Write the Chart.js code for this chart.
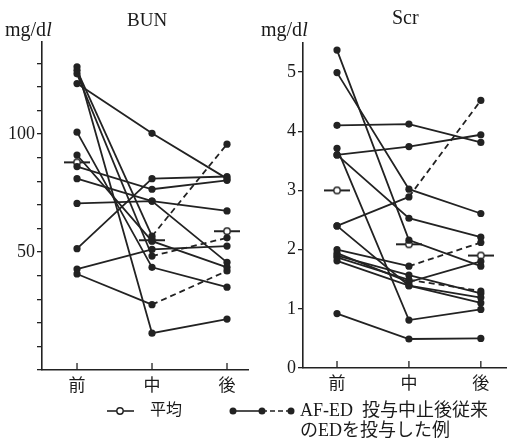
<!DOCTYPE html>
<html>
<head>
<meta charset="utf-8">
<script src="https://cdn.jsdelivr.net/npm/chart.js@4.4.0/dist/chart.umd.min.js"></script>
<style>
    body { margin: 0; background: #fff; width: 512px; height: 447px; position: relative; overflow: hidden;
           font-family: "Liberation Serif", "DejaVu Serif", serif; color: #1a1a1a; }
    canvas { position: absolute; top: 0; }
    .t { position: absolute; white-space: nowrap; line-height: 1; }
    .jp { font-family: "Liberation Serif", "Noto Sans CJK JP", serif; }
</style>
</head>
<body>
<canvas id="graficaBUN" width="256" height="400" style="left:0"></canvas>
<canvas id="graficaSCR" width="256" height="400" style="left:256px"></canvas>

<div class="t" style="left:5px;top:19px;font-size:20px">mg/d<i>l</i></div>
<div class="t" style="left:127px;top:10px;font-size:19px">BUN</div>
<div class="t" style="left:261px;top:19px;font-size:20px">mg/d<i>l</i></div>
<div class="t" style="left:392px;top:7px;font-size:20px">Scr</div>

<svg style="position:absolute;left:0;top:0" width="512" height="447">
    <line x1="107" y1="411" x2="134" y2="411" stroke="#222" stroke-width="1.6"/>
    <circle cx="120" cy="411" r="3.2" fill="#fff" stroke="#222" stroke-width="1.4"/>
    <line x1="233" y1="411" x2="262" y2="411" stroke="#222" stroke-width="1.6"/>
    <line x1="262" y1="411" x2="291" y2="411" stroke="#222" stroke-width="1.6" stroke-dasharray="5,3"/>
    <circle cx="233" cy="411" r="3.5" fill="#222"/>
    <circle cx="262" cy="411" r="3.5" fill="#222"/>
    <circle cx="291" cy="411" r="3.5" fill="#222"/>
</svg>
<div class="t jp" style="left:150px;top:402px;font-size:16px">平均</div>
<div class="t jp" style="left:300px;top:401px;font-size:18px">AF-ED&nbsp; 投与中止後従来</div>
<div class="t jp" style="left:300px;top:421px;font-size:18px">のEDを投与した例</div>

<script>
// categorias y valores
const categorias = ['前', '中', '後'];

const bunEtiquetas = [50, 100];
const bunPacientes = [
    [128.5, 15.6, 21.6],
    [127.0, 56.7, 95.7],
    [125.5, 48.3, 56.0],
    [121.4, 100.3, 81.1],
    [100.8, 43.5, 35.1],
    [91.1, 54.6, 43.5],
    [86.2, 76.6, 80.4],
    [81.1, 71.6, 67.4],
    [70.6, 71.6, 45.6],
    [51.4, 81.1, 82.0],
    [42.8, 51.1, 52.5],
    [40.7, 27.7, 42.0],
];
// pacientes con ED despues de suspender AF-ED (tramo 中-後 punteado)
const bunPunteados = [1, 2, 11];
const bunPromedio = [88, 55, 58.8];

const scrEtiquetas = [0, 1, 2, 3, 4, 5];
const scrPacientes = [
    [5.37, 2.16, 1.72],
    [4.99, 3.02, 2.61],
    [4.10, 4.12, 3.81],
    [3.71, 0.81, 0.99],
    [3.60, 3.74, 3.94],
    [3.60, 2.53, 2.21],
    [2.40, 2.89, 4.52],
    [2.40, 1.39, 1.10],
    [2.00, 1.72, 2.12],
    [1.94, 1.45, 1.80],
    [1.87, 1.49, 1.30],
    [1.81, 1.39, 1.19],
    [1.90, 1.57, 1.26],
    [0.92, 0.49, 0.50],
];
const scrPunteados = [6, 8, 10];
const scrPromedio = [3.0, 2.09, 1.9];

const NEGRO = '#222';

// marcador del promedio: circulo abierto con raya horizontal
function marcadorPromedio() {
    const c = document.createElement('canvas');
    c.width = 26; c.height = 10;
    const g = c.getContext('2d');
    g.strokeStyle = NEGRO;
    g.lineWidth = 2;
    g.beginPath(); g.moveTo(0, 5); g.lineTo(26, 5); g.stroke();
    g.beginPath(); g.arc(13, 5, 3.2, 0, Math.PI * 2);
    g.fillStyle = '#fff'; g.fill(); g.lineWidth = 1.4; g.stroke();
    return c;
}

// rayitas del eje x hacia adentro
const marcasX = {
    id: 'marcasX',
    afterDraw(chart) {
        const sx = chart.scales.x, ctx = chart.ctx, base = chart.chartArea.bottom;
        ctx.save();
        ctx.strokeStyle = NEGRO;
        ctx.lineWidth = 1.3;
        sx.ticks.forEach(t => {
            const px = sx.getPixelForValue(t.value);
            ctx.beginPath(); ctx.moveTo(px, base); ctx.lineTo(px, base - 7); ctx.stroke();
        });
        ctx.restore();
    }
};

function crearGrafica(id, pacientes, punteados, promedio, etiquetas, cfg) {
    const datasets = pacientes.map((p, i) => ({
        data: p.map((v, k) => ({ x: k, y: v })),
        borderColor: NEGRO,
        backgroundColor: NEGRO,
        borderWidth: 1.8,
        pointRadius: 3.6,
        pointBorderWidth: 0,
        segment: {
            borderDash: ctx => (punteados.includes(i) && ctx.p0DataIndex === 1) ? [6, 4] : undefined
        }
    }));
    datasets.push({
        data: promedio.map((v, k) => ({ x: k, y: v })),
        showLine: false,
        pointStyle: marcadorPromedio(),
        pointRadius: 5
    });

    return new Chart(document.getElementById(id), {
        type: 'line',
        data: { datasets },
        plugins: [marcasX],
        options: {
            responsive: false,
            animation: false,
            layout: { padding: { top: cfg.top, right: cfg.right, left: 0, bottom: 0 } },
            plugins: { legend: { display: false }, tooltip: { enabled: false } },
            scales: {
                x: {
                    type: 'linear',
                    min: cfg.xMin, max: cfg.xMax,
                    afterBuildTicks: s => { s.ticks = [0, 1, 2].map(v => ({ value: v })); },
                    afterFit: s => { s.height = cfg.xAlto; },
                    ticks: {
                        autoSkip: false,
                        callback: v => categorias[v],
                        font: { family: '"Noto Sans CJK JP"', size: 17 },
                        color: '#1a1a1a',
                        padding: 4
                    },
                    grid: { display: true, drawOnChartArea: false, drawTicks: false },
                    border: { display: true, color: NEGRO, width: 1.6 }
                },
                y: {
                    min: 0, max: cfg.yMax,
                    afterFit: s => { s.width = cfg.yAncho; },
                    ticks: {
                        stepSize: cfg.paso,
                        includeBounds: false,
                        autoSkip: false,
                        callback: v => etiquetas.includes(v) ? String(v) : '',
                        font: { family: '"Liberation Serif", "DejaVu Serif", serif', size: 18 },
                        color: '#1a1a1a',
                        padding: 2
                    },
                    grid: { drawOnChartArea: false, drawTicks: true, tickLength: 5, color: NEGRO, lineWidth: 1.3 },
                    border: { display: true, color: NEGRO, width: 1.6 }
                }
            }
        }
    });
}

crearGrafica('graficaBUN', bunPacientes, bunPunteados, bunPromedio, bunEtiquetas,
    { top: 42, right: 8, xMin: -0.467, xMax: 2.28, xAlto: 30, yAncho: 42, yMax: 139, paso: 10 });

crearGrafica('graficaSCR', scrPacientes, scrPunteados, scrPromedio, scrEtiquetas,
    { top: 43, right: 0, xMin: -0.473, xMax: 2.35, xAlto: 32, yAncho: 47, yMax: 5.49, paso: 1 });
</script>
</body>
</html>
